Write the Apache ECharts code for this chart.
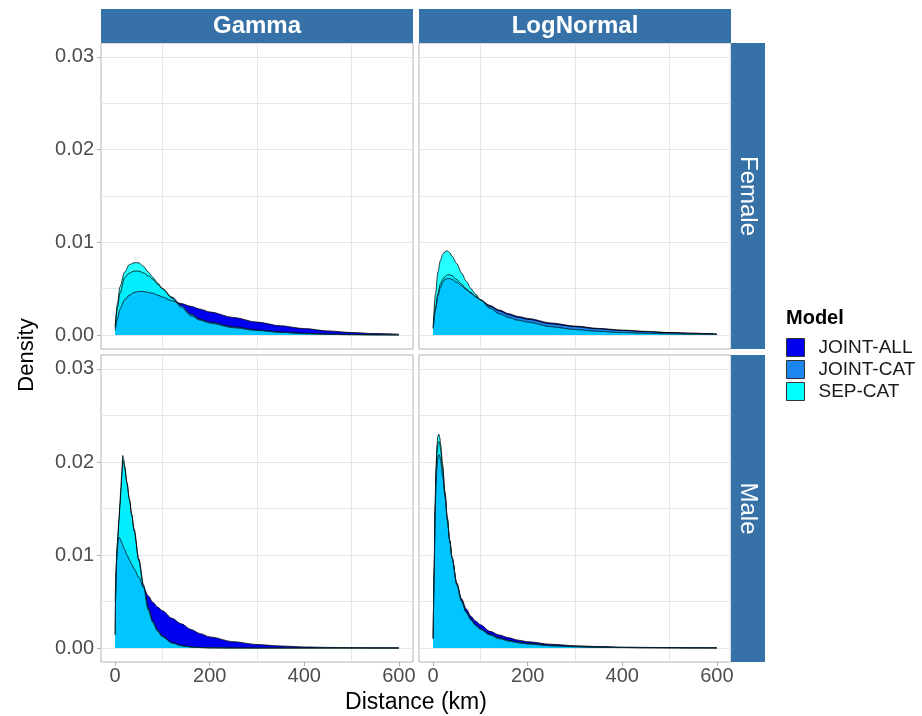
<!DOCTYPE html>
<html><head><meta charset="utf-8">
<script src="https://cdn.jsdelivr.net/npm/echarts@6/dist/echarts.min.js"></script>
<style>html,body{margin:0;padding:0;background:#fff}#c{width:922px;height:716px}</style>
</head><body><div id="c"></div>
<script>
// ---------- data ----------
const models = ['JOINT-ALL', 'JOINT-CAT', 'SEP-CAT'];
const distributions = ['Gamma', 'LogNormal'];
const sexes = ['Female', 'Male'];
const xTicks = [0, 200, 400, 600];
const yTicks = [0, 0.01, 0.02, 0.03];

// Gamma / Female
const gammaFemaleX = [0,5,10,20,30,40,50,60,70,80,90,100,120,140,160,180,200,250,300,350,400,450,500,550,600];
const gammaFemaleJointAll = [0.0005,0.0018,0.0028,0.0038,0.0043,0.0046,0.0047,0.0047,0.0046,0.0045,0.0043,0.0041,0.0037,0.0034,0.0031,0.0028,0.0025,0.0019,0.0014,0.0010,0.0007,0.00045,0.00028,0.00016,0.0001];
const gammaFemaleJointCat = [0.0008,0.0030,0.0045,0.0062,0.0067,0.0069,0.0069,0.0067,0.0064,0.0060,0.0055,0.0050,0.0041,0.0032,0.0023,0.0017,0.0014,0.0009,0.00055,0.00033,0.0002,0.00012,0.00007,0.00004,0.00002];
const gammaFemaleSepCat = [0.0009,0.0035,0.0052,0.0068,0.0076,0.0078,0.0078,0.0074,0.0068,0.0062,0.0056,0.0050,0.0040,0.0030,0.0021,0.0016,0.0013,0.0008,0.0005,0.0003,0.00015,0.00008,0.00004,0.00002,0.00001];

// LogNormal / Female
const lognormFemaleX = [0,5,10,15,20,25,30,35,40,50,60,70,80,90,100,120,140,160,180,200,250,300,350,400,450,500,550,600];
const lognormFemaleJointAll = [0.0007,0.0028,0.0042,0.0051,0.0057,0.0060,0.0061,0.0061,0.0060,0.0057,0.0053,0.0049,0.0045,0.0041,0.0038,0.0032,0.0027,0.0023,0.0020,0.0018,0.0013,0.00097,0.00072,0.00054,0.0004,0.00027,0.0002,0.00012];
const lognormFemaleJointCat = [0.0008,0.0030,0.0045,0.0055,0.0060,0.0063,0.0065,0.0065,0.0064,0.0060,0.0055,0.0050,0.0046,0.0042,0.0038,0.0031,0.0026,0.0022,0.0019,0.0017,0.0012,0.0009,0.00066,0.0005,0.00037,0.00026,0.00019,0.00011];
const lognormFemaleSepCat = [0.0009,0.0045,0.0068,0.0080,0.0087,0.0090,0.0091,0.0089,0.0085,0.0077,0.0067,0.0058,0.0050,0.0044,0.0038,0.0029,0.0023,0.0019,0.0016,0.0014,0.0009,0.0006,0.0004,0.00028,0.0002,0.00014,0.0001,0.00007];

// Gamma / Male
const gammaMaleX = [0,1,2,3,4,6,8,10,12,14,16,18,20,25,30,35,40,50,60,70,80,90,100,120,140,160,180,200,250,300,350,400,450,500,550,600];
const gammaMaleJointAll = [0.0050,0.0070,0.0082,0.0093,0.0102,0.0115,0.0119,0.0118,0.0116,0.0113,0.0111,0.0108,0.0106,0.0100,0.0095,0.0090,0.0085,0.0076,0.0065,0.0056,0.0049,0.0044,0.0040,0.0032,0.0026,0.0020,0.00155,0.0012,0.00068,0.00038,0.00022,0.00012,0.00007,0.00004,0.00002,0.00001];
const gammaMaleJointCat = [0.0014,0.0056,0.0080,0.0096,0.0106,0.0120,0.0136,0.0152,0.0168,0.0185,0.0202,0.0200,0.0194,0.0177,0.0160,0.0144,0.0128,0.0096,0.0068,0.0043,0.0029,0.0019,0.0013,0.0006,0.00028,0.00013,0.00006,0.00003,0.00001,0,0,0,0,0,0,0];
const gammaMaleSepCat = [0.0015,0.0060,0.0085,0.0100,0.0110,0.0124,0.0140,0.0156,0.0172,0.0189,0.0207,0.0203,0.0196,0.0178,0.0160,0.0143,0.0126,0.0094,0.0066,0.0041,0.0027,0.0018,0.0012,0.00055,0.00025,0.00011,0.00005,0.00002,0,0,0,0,0,0,0,0];

// LogNormal / Male
const lognormMaleX = [0,2,4,6,8,10,12,14,16,20,25,30,35,40,50,60,70,80,90,100,120,140,160,180,200,250,300,350,400,450,500,550,600];
const lognormMaleJointAll = [0.0012,0.0080,0.0140,0.0175,0.0195,0.0205,0.0208,0.0206,0.0201,0.0186,0.0162,0.0137,0.0115,0.0097,0.0070,0.0053,0.0042,0.0034,0.0029,0.0025,0.0018,0.0014,0.0011,0.00085,0.00068,0.0004,0.00025,0.00016,0.0001,0.00007,0.00005,0.00003,0.00002];
const lognormMaleJointCat = [0.0010,0.0080,0.0148,0.0188,0.0210,0.0220,0.0222,0.0219,0.0212,0.0193,0.0166,0.0139,0.0116,0.0097,0.0069,0.0051,0.0039,0.0031,0.0025,0.0021,0.0015,0.0011,0.00082,0.00063,0.0005,0.00028,0.00016,0.0001,0.00006,0.00004,0.00003,0.00002,0.00001];
const lognormMaleSepCat = [0.0010,0.0085,0.0155,0.0195,0.0218,0.0228,0.0230,0.0226,0.0218,0.0197,0.0168,0.0140,0.0116,0.0097,0.0068,0.0050,0.0038,0.0030,0.0024,0.0020,0.0014,0.0010,0.00075,0.00057,0.00044,0.00024,0.00014,0.00008,0.00005,0.00003,0.00002,0.00001,0.00001];

// ---------- build ----------
const panels = [
  {dist:'Gamma', sex:'Female', x:gammaFemaleX, y:[gammaFemaleJointAll, gammaFemaleJointCat, gammaFemaleSepCat]},
  {dist:'LogNormal', sex:'Female', x:lognormFemaleX, y:[lognormFemaleJointAll, lognormFemaleJointCat, lognormFemaleSepCat]},
  {dist:'Gamma', sex:'Male', x:gammaMaleX, y:[gammaMaleJointAll, gammaMaleJointCat, gammaMaleSepCat]},
  {dist:'LogNormal', sex:'Male', x:lognormMaleX, y:[lognormMaleJointAll, lognormMaleJointCat, lognormMaleSepCat]}
];

const colLeft = [101, 419], panelW = 312;
const rowTop = [43, 355], panelH = [306, 307];
const stripColor = '#3672A8';
const fills = {'JOINT-ALL':'#0000EE', 'JOINT-CAT':'#1C86EE', 'SEP-CAT':'#00FFFF'};
const fillOpacity = {'JOINT-ALL':1, 'JOINT-CAT':1, 'SEP-CAT':0.85};
const FONT = '"Liberation Sans", Arial, sans-serif';

const grids = [], xAxes = [], yAxes = [], series = [];
panels.forEach((p, i) => {
  const c = distributions.indexOf(p.dist), r = sexes.indexOf(p.sex);
  grids.push({left: colLeft[c], top: rowTop[r], width: panelW, height: panelH[r],
    show: true, backgroundColor: '#fff', borderColor: '#B3B3B3', borderWidth: 1, containLabel: false});
  const bottom = r === 1, left = c === 0;
  xAxes.push({type:'value', gridIndex:i, min:-30, max:630, splitNumber:3, minInterval:200, maxInterval:200,
    position:'bottom',
    axisLine:{show:false, onZero:false},
    axisTick:{show:bottom, customValues:xTicks, length:4, lineStyle:{color:'#B3B3B3'}},
    axisLabel:{show:bottom, customValues:xTicks, color:'#4D4D4D', fontSize:20, fontFamily:FONT, margin:4},
    splitLine:{show:false},
    minorTick:{show:false, splitNumber:2},
    minorSplitLine:{show:true, lineStyle:{color:'#E6E6E6', width:1}}
  });
  yAxes.push({type:'value', gridIndex:i, min:-0.0015, max:0.0315, splitNumber:3, minInterval:0.01, maxInterval:0.01,
    position:'left',
    axisLine:{show:false, onZero:false},
    axisTick:{show:left, customValues:yTicks, length:4, lineStyle:{color:'#B3B3B3'}},
    axisLabel:{show:left, customValues:yTicks, color:'#4D4D4D', fontSize:20, fontFamily:FONT, margin:7,
      formatter: v => v.toFixed(2)},
    splitLine:{show:true, lineStyle:{color:'#E6E6E6', width:1}},
    minorTick:{show:false, splitNumber:2},
    minorSplitLine:{show:true, lineStyle:{color:'#E6E6E6', width:1}}
  });
  models.forEach((m, k) => {
    series.push({type:'line', name:m, xAxisIndex:i, yAxisIndex:i,
      data: p.x.map((x, j) => [x, p.y[k][j]]),
      smooth:0.3, smoothMonotone:'x', symbol:'none', showSymbol:false, silent:true,
      color: fills[m],
      lineStyle:{color:'#000', width:0.9, opacity:0.85},
      areaStyle:{color:fills[m], opacity:fillOpacity[m]}
    });
  });
  // region shared by all three densities
  series.push({type:'line', name:'overlap', xAxisIndex:i, yAxisIndex:i,
    data: p.x.map((x, j) => [x, Math.min(p.y[0][j], p.y[1][j], p.y[2][j])]),
    smooth:0.3, smoothMonotone:'x', symbol:'none', showSymbol:false, silent:true,
    color:'#00C5FF',
    lineStyle:{color:'#006E8C', width:0.6, opacity:0.6},
    areaStyle:{color:'#00C5FF', opacity:1}
  });
});

const graphic = [];
distributions.forEach((d, c) => {
  graphic.push({type:'rect', shape:{x:colLeft[c], y:9, width:panelW, height:34}, style:{fill:stripColor}, z:10});
  graphic.push({type:'text', x:colLeft[c] + panelW/2, y:26, z:11,
    style:{text:d, fill:'#fff', font:'bold 24px ' + FONT, align:'center', verticalAlign:'middle', textAlign:'center', textVerticalAlign:'middle'}});
});
sexes.forEach((s, r) => {
  graphic.push({type:'rect', shape:{x:731, y:rowTop[r], width:34, height:panelH[r]}, style:{fill:stripColor}, z:10});
  graphic.push({type:'text', x:748, y:rowTop[r] + panelH[r]/2, rotation:-Math.PI/2, z:11,
    style:{text:s, fill:'#fff', font:'24px ' + FONT, align:'center', verticalAlign:'middle', textAlign:'center', textVerticalAlign:'middle'}});
});
graphic.push({type:'text', x:27, y:355, rotation:Math.PI/2, z:11,
  style:{text:'Density', fill:'#000', font:'22px ' + FONT, align:'center', verticalAlign:'middle', textAlign:'center', textVerticalAlign:'middle'}});
graphic.push({type:'text', x:416, y:703, z:11,
  style:{text:'Distance (km)', fill:'#000', font:'23px ' + FONT, align:'center', verticalAlign:'middle', textAlign:'center', textVerticalAlign:'middle'}});
graphic.push({type:'text', x:786, y:318, z:11,
  style:{text:'Model', fill:'#000', font:'bold 20px ' + FONT, align:'left', verticalAlign:'middle', textAlign:'left', textVerticalAlign:'middle'}});

const chart = echarts.init(document.getElementById('c'), null, {renderer:'canvas', width:922, height:716});
chart.setOption({
  animation:false,
  backgroundColor:'#fff',
  grid: grids, xAxis: xAxes, yAxis: yAxes, series: series,
  legend:{orient:'vertical', left:786, top:338, padding:0, itemWidth:18, itemHeight:18, itemGap:3, icon:'rect',
    selectedMode:false,
    textStyle:{fontSize:19, fontFamily:FONT, color:'#1A1A1A', padding:[0,0,0,9], lineHeight:18},
    data: models.map(m => ({name:m, icon:'rect', itemStyle:{color:fills[m], borderColor:'#333', borderWidth:1, opacity:1}}))
  },
  graphic: graphic
});
</script></body></html>
